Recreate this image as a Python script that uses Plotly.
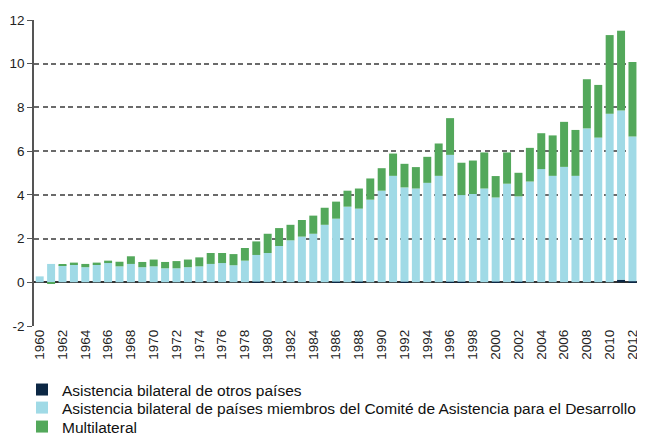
import plotly.graph_objects as go

years = list(range(1960, 2014))

# otros países (muy pequeño, casi invisible)
otros = [0, 0, 0, 0, 0, 0, 0, 0, 0, 0,
         0, 0, 0, 0, 0, 0, 0, 0, 0, 0.03,
         0, 0, 0, 0, 0, 0, 0.03, 0, 0.03, 0,
         0, 0, 0.03, 0, 0, 0, 0.03, 0.03, 0, 0,
         0.03, 0, 0.03, 0, 0, 0, 0, 0, 0, 0,
         0, 0.12, 0.05, 0]

# top of the light blue segment (includes otros)
cad_top = [0.27, 0.84, 0.79, 0.81, 0.69, 0.81, 0.88, 0.73, 0.84, 0.69,
           0.73, 0.64, 0.64, 0.69, 0.73, 0.84, 0.88, 0.78, 0.99, 1.25,
           1.34, 1.66, 1.92, 2.09, 2.22, 2.63, 2.91, 3.46, 3.37, 3.78,
           4.19, 4.87, 4.34, 4.29, 4.55, 4.87, 5.83, 3.99, 4.04, 4.29,
           3.88, 4.51, 3.93, 4.61, 5.18, 4.87, 5.28, 4.87, 7.04, 6.62,
           7.71, 7.86, 6.67, 6.41]
cad = [round(t - o, 2) for t, o in zip(cad_top, otros)]

multilateral = [0.0, -0.07, 0.02, 0.09, 0.15, 0.09, 0.11, 0.21, 0.35, 0.24,
                0.31, 0.29, 0.33, 0.35, 0.41, 0.50, 0.46, 0.51, 0.58, 0.62,
                0.88, 0.82, 0.71, 0.76, 0.83, 0.78, 0.78, 0.73, 0.92, 0.97,
                1.03, 1.02, 1.08, 0.98, 1.19, 1.48, 1.68, 1.48, 1.53, 1.65,
                0.98, 1.43, 1.08, 1.54, 1.64, 1.85, 2.06, 2.10, 2.25, 2.41,
                3.60, 3.65, 3.41, 3.81]

y_ticks = [-2, 0, 2, 4, 6, 8, 10, 12]
y_ticktext = ["-2", "0", "2", "4", "6", "8", "10", "12"]

names = ["Asistencia bilateral de otros países",
         "Asistencia bilateral de países miembros del Comité de Asistencia para el Desarrollo",
         "Multilateral"]
colors = ["#0c2744", "#a0dae6", "#53a85b"]
legends = ["legend", "legend2", "legend3"]

fig = go.Figure()
for vals, name, col, lg in zip([otros, cad, multilateral], names, colors, legends):
    fig.add_trace(go.Bar(x=years, y=vals, name=name, marker_color=col,
                         marker_line_width=0, width=0.7, legend=lg))

font = "Liberation Sans, Arial, sans-serif"
# one legend per row so the rows can sit close together like the original
leg = dict(orientation="v", x=-0.0196, xanchor="left", yanchor="middle",
           font=dict(size=15.5, color="#111"), bgcolor="rgba(0,0,0,0)")

# page body has an 8px margin, so the figure is 8px smaller and margins shifted
fig.update_layout(
    width=637, height=425,
    margin=dict(l=26, r=0, t=12, b=107, autoexpand=False),
    barmode="relative",
    plot_bgcolor="white", paper_bgcolor="white",
    font=dict(family=font, size=13, color="#222"),
    xaxis=dict(range=[1959.5, 2013.1], tickmode="linear", tick0=1960, dtick=2,
               tickangle=-90, showgrid=False, showline=False, ticks="",
               tickfont=dict(size=13.5), automargin=False),
    xaxis2=dict(overlaying="x", anchor="free", position=2 / 14, matches="x",
                showline=True, linecolor="#333", linewidth=1.5,
                tickmode="linear", tick0=1959.5, dtick=1, ticks="outside",
                ticklen=3, tickcolor="#333", showticklabels=False, showgrid=False,
                automargin=False),
    yaxis=dict(range=[-2, 12], tickvals=y_ticks, ticktext=y_ticktext,
               showline=True, linecolor="#555",
               linewidth=1.5, ticks="outside", ticklen=5, tickcolor="#555",
               showgrid=True, gridcolor="#6a6a6a", griddash="5px,3.5px", gridwidth=1.5,
               zeroline=True, zerolinecolor="#333", zerolinewidth=1.5,
               tickfont=dict(size=13.5), automargin=False),
    legend=dict(leg, y=-0.209),
    legend2=dict(leg, y=-0.268),
    legend3=dict(leg, y=-0.330),
    showlegend=True,
)

fig.write_html("out.html")
